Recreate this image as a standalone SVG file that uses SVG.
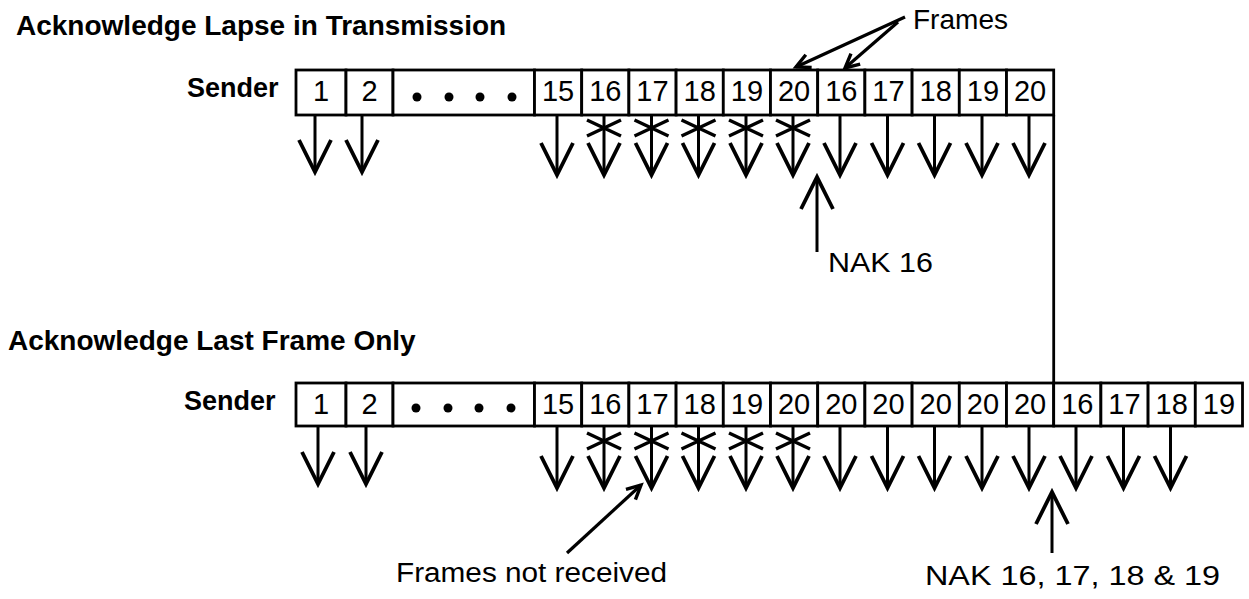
<svg xmlns="http://www.w3.org/2000/svg" xmlns:xlink="http://www.w3.org/1999/xlink" width="1249" height="599" viewBox="0 0 1249 599">
  <style>
    text { font-family: "Liberation Sans", Arial, Helvetica, sans-serif; fill: #000; }
    .title { font-size: 28px; font-weight: bold; }
    .sender { font-size: 27px; font-weight: bold; }
    .num { font-size: 29px; text-anchor: middle; }
    .label { font-size: 27px; }
    .cell { fill: #fff; stroke: #000; stroke-width: 2.8; }
    .dot { fill: #000; }
    .arrow { fill: none; stroke: #000; stroke-width: 3; marker-end: url(#vhead); }
    .pointer { fill: none; stroke: #000; stroke-width: 3.2; marker-end: url(#smallhead); }
    .lost { fill: none; stroke: #000; stroke-width: 3.4; }
    .link { fill: none; stroke: #000; stroke-width: 2.8; }
  </style>
  <defs>
    <!-- open V arrowhead for the frame / NAK arrows -->
    <marker id="vhead" markerUnits="userSpaceOnUse" orient="auto" refX="0" refY="0" overflow="visible">
      <path d="M-32,-16 L0,0 L-32,16" fill="none" stroke="#000" stroke-width="3.8" stroke-linejoin="miter"/>
    </marker>
    <!-- small head for the annotation pointers -->
    <marker id="smallhead" markerUnits="userSpaceOnUse" orient="auto" refX="0" refY="0" overflow="visible">
      <path d="M-14,-7 L0,0 L-14,7" fill="none" stroke="#000" stroke-width="3.4"/>
    </marker>
    <!-- cross drawn over an arrow whose frame is lost -->
    <path id="xmark" d="M-17,-8 L17,8 M-17,8 L17,-8"/>
  </defs>

  <!-- headings -->
  <g id="heading-lapse"><text class="title" x="16" y="35">Acknowledge Lapse in Transmission</text></g>
  <g id="heading-last"><text class="title" x="8" y="350">Acknowledge Last Frame Only</text></g>
  <g id="sender-top"><text class="sender" x="187" y="97">Sender</text></g>
  <g id="sender-bottom"><text class="sender" x="184" y="410">Sender</text></g>

  <!-- upper sequence of frames -->
  <g id="row-top">
    <g id="t1"><rect class="cell" x="296" y="70" width="50" height="45"/><text class="num" x="321" y="101">1</text></g>
    <g id="t2"><rect class="cell" x="346" y="70" width="47" height="45"/><text class="num" x="369.5" y="101">2</text></g>
    <g id="tdots"><rect class="cell" x="393" y="70" width="141.5" height="45"/>
      <circle class="dot" cx="417" cy="97" r="4.5"/><circle class="dot" cx="449" cy="97" r="4.5"/>
      <circle class="dot" cx="480" cy="97" r="4.5"/><circle class="dot" cx="512" cy="97" r="4.5"/></g>
    <g id="t15"><rect class="cell" x="534.5" y="70" width="47.2" height="45"/><text class="num" x="558.1" y="101">15</text></g>
    <g id="t16"><rect class="cell" x="581.7" y="70" width="47.2" height="45"/><text class="num" x="605.3" y="101">16</text></g>
    <g id="t17"><rect class="cell" x="628.9" y="70" width="47.2" height="45"/><text class="num" x="652.5" y="101">17</text></g>
    <g id="t18"><rect class="cell" x="676.1" y="70" width="47.2" height="45"/><text class="num" x="699.7" y="101">18</text></g>
    <g id="t19"><rect class="cell" x="723.3" y="70" width="47.2" height="45"/><text class="num" x="746.9" y="101">19</text></g>
    <g id="t20"><rect class="cell" x="770.5" y="70" width="47.2" height="45"/><text class="num" x="794.1" y="101">20</text></g>
    <g id="t16r"><rect class="cell" x="817.7" y="70" width="47.2" height="45"/><text class="num" x="841.3" y="101">16</text></g>
    <g id="t17r"><rect class="cell" x="864.9" y="70" width="47.2" height="45"/><text class="num" x="888.5" y="101">17</text></g>
    <g id="t18r"><rect class="cell" x="912.1" y="70" width="47.2" height="45"/><text class="num" x="935.7" y="101">18</text></g>
    <g id="t19r"><rect class="cell" x="959.3" y="70" width="47.2" height="45"/><text class="num" x="982.9" y="101">19</text></g>
    <g id="t20r"><rect class="cell" x="1006.5" y="70" width="47.2" height="45"/><text class="num" x="1030.1" y="101">20</text></g>
  </g>

  <!-- lower sequence of frames -->
  <g id="row-bottom">
    <g id="b1"><rect class="cell" x="296" y="383" width="50" height="43"/><text class="num" x="321" y="414">1</text></g>
    <g id="b2"><rect class="cell" x="346" y="383" width="47" height="43"/><text class="num" x="369.5" y="414">2</text></g>
    <g id="bdots"><rect class="cell" x="393" y="383" width="141.5" height="43"/>
      <circle class="dot" cx="416" cy="408" r="4.5"/><circle class="dot" cx="448" cy="408" r="4.5"/>
      <circle class="dot" cx="479" cy="408" r="4.5"/><circle class="dot" cx="511" cy="408" r="4.5"/></g>
    <g id="b15"><rect class="cell" x="534.5" y="383" width="47.2" height="43"/><text class="num" x="558.1" y="414">15</text></g>
    <g id="b16"><rect class="cell" x="581.7" y="383" width="47.2" height="43"/><text class="num" x="605.3" y="414">16</text></g>
    <g id="b17"><rect class="cell" x="628.9" y="383" width="47.2" height="43"/><text class="num" x="652.5" y="414">17</text></g>
    <g id="b18"><rect class="cell" x="676.1" y="383" width="47.2" height="43"/><text class="num" x="699.7" y="414">18</text></g>
    <g id="b19"><rect class="cell" x="723.3" y="383" width="47.2" height="43"/><text class="num" x="746.9" y="414">19</text></g>
    <g id="b20"><rect class="cell" x="770.5" y="383" width="47.2" height="43"/><text class="num" x="794.1" y="414">20</text></g>
    <g id="b20a"><rect class="cell" x="817.7" y="383" width="47.2" height="43"/><text class="num" x="841.3" y="414">20</text></g>
    <g id="b20b"><rect class="cell" x="864.9" y="383" width="47.2" height="43"/><text class="num" x="888.5" y="414">20</text></g>
    <g id="b20c"><rect class="cell" x="912.1" y="383" width="47.2" height="43"/><text class="num" x="935.7" y="414">20</text></g>
    <g id="b20d"><rect class="cell" x="959.3" y="383" width="47.2" height="43"/><text class="num" x="982.9" y="414">20</text></g>
    <g id="b20e"><rect class="cell" x="1006.5" y="383" width="47.2" height="43"/><text class="num" x="1030.1" y="414">20</text></g>
    <g id="b16r"><rect class="cell" x="1053.7" y="383" width="47.2" height="43"/><text class="num" x="1077.3" y="414">16</text></g>
    <g id="b17r"><rect class="cell" x="1100.9" y="383" width="47.2" height="43"/><text class="num" x="1124.5" y="414">17</text></g>
    <g id="b18r"><rect class="cell" x="1148.1" y="383" width="47.2" height="43"/><text class="num" x="1171.7" y="414">18</text></g>
    <g id="b19r"><rect class="cell" x="1195.3" y="383" width="47.2" height="43"/><text class="num" x="1218.9" y="414">19</text></g>
  </g>

  <!-- annotation labels -->
  <g id="label-frames"><text class="label" x="913" y="29" textLength="95" lengthAdjust="spacingAndGlyphs">Frames</text></g>
  <g id="label-nak16"><text class="label" x="828" y="272" textLength="105" lengthAdjust="spacingAndGlyphs">NAK 16</text></g>
  <g id="label-notreceived"><text class="label" x="396" y="582" textLength="271" lengthAdjust="spacingAndGlyphs">Frames not received</text></g>
  <g id="label-nakmany"><text class="label" x="925" y="585" textLength="295" lengthAdjust="spacingAndGlyphs">NAK 16, 17, 18 &amp; 19</text></g>

  <!-- connectors -->
  <g id="connectors">
    <!-- frames leaving the upper sender -->
    <path class="arrow" d="M315,115 V172"/>
    <path class="arrow" d="M362,115 V172"/>
    <path class="arrow" d="M557,115 V175"/>
    <path class="arrow" d="M604,115 V175"/>
    <path class="arrow" d="M651.5,115 V175"/>
    <path class="arrow" d="M698.5,115 V175"/>
    <path class="arrow" d="M746,115 V175"/>
    <path class="arrow" d="M793,115 V175"/>
    <path class="arrow" d="M840,115 V175"/>
    <path class="arrow" d="M887.5,115 V175"/>
    <path class="arrow" d="M934.5,115 V175"/>
    <path class="arrow" d="M982,115 V175"/>
    <path class="arrow" d="M1029,115 V175"/>
    <use class="lost" xlink:href="#xmark" x="604" y="128"/>
    <use class="lost" xlink:href="#xmark" x="651.5" y="128"/>
    <use class="lost" xlink:href="#xmark" x="698.5" y="128"/>
    <use class="lost" xlink:href="#xmark" x="746" y="128"/>
    <use class="lost" xlink:href="#xmark" x="793" y="128"/>

    <!-- frames leaving the lower sender -->
    <path class="arrow" d="M318,426 V484"/>
    <path class="arrow" d="M366,426 V484"/>
    <path class="arrow" d="M557,426 V488"/>
    <path class="arrow" d="M604,426 V488"/>
    <path class="arrow" d="M651.5,426 V488"/>
    <path class="arrow" d="M698.5,426 V488"/>
    <path class="arrow" d="M746,426 V488"/>
    <path class="arrow" d="M793,426 V488"/>
    <path class="arrow" d="M840,426 V488"/>
    <path class="arrow" d="M887.5,426 V488"/>
    <path class="arrow" d="M934.5,426 V488"/>
    <path class="arrow" d="M982,426 V488"/>
    <path class="arrow" d="M1029,426 V488"/>
    <path class="arrow" d="M1076,426 V488"/>
    <path class="arrow" d="M1123.5,426 V488"/>
    <path class="arrow" d="M1170.5,426 V488"/>
    <use class="lost" xlink:href="#xmark" x="604" y="441"/>
    <use class="lost" xlink:href="#xmark" x="651.5" y="441"/>
    <use class="lost" xlink:href="#xmark" x="698.5" y="441"/>
    <use class="lost" xlink:href="#xmark" x="746" y="441"/>
    <use class="lost" xlink:href="#xmark" x="793" y="441"/>

    <!-- negative acknowledgements travelling back -->
    <path class="arrow" d="M817,252 V177"/>
    <path class="arrow" d="M1052,553 V492"/>

    <!-- time alignment between the two schemes -->
    <path class="link" d="M1053.7,115 V383"/>

    <!-- label pointers -->
    <path class="pointer" d="M905,17 L796,67"/>
    <path class="pointer" d="M898,22 L845,68"/>
    <path class="pointer" d="M567,553 L641,485"/>
  </g>
</svg>
